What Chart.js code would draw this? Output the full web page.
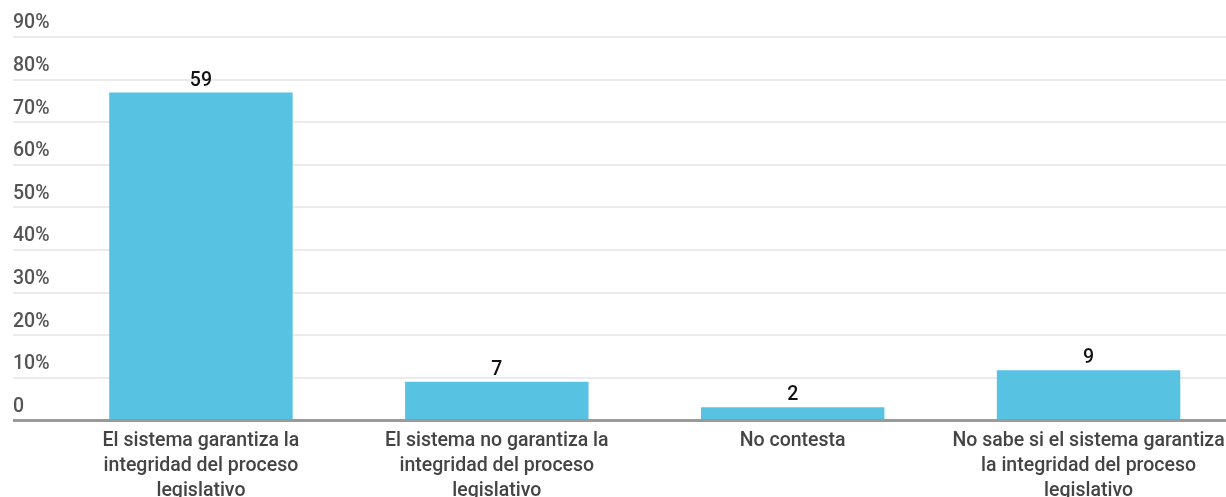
<!DOCTYPE html>
<html lang="es">
<head>
  <meta charset="UTF-8" />
  <title>Integridad del proceso legislativo</title>
  <script src="https://cdn.jsdelivr.net/npm/chart.js"></script>
  <style>
    html, body {
      margin: 0;
      padding: 0;
      background: #ffffff;
      overflow: hidden;
    }
    #wrap {
      position: relative;
      width: 1250px;
      height: 497px;
    }
  </style>
</head>
<body>
  <div id="wrap">
    <canvas id="barChart"></canvas>
  </div>

  <script>
    const categories = [
      ['El sistema garantiza la', 'integridad del proceso', 'legislativo'],
      ['El sistema no garantiza la', 'integridad del proceso', 'legislativo'],
      ['No contesta'],
      ['No sabe si el sistema garantiza', 'la integridad del proceso', 'legislativo']
    ];
    // bar height (%) and the count printed above each bar
    const shares = [77.0, 9.1, 3.1, 11.8];
    const counts = [59, 7, 2, 9];
    const yTicks = [0, 10, 20, 30, 40, 50, 60, 70, 80, 90];
    const yTickLabels = ['0', '10%', '20%', '30%', '40%', '50%', '60%', '70%', '80%', '90%'];

    const barColor = '#58c2e3';
    const gridColor = '#ebebeb';
    const baseColor = '#9a9a9a';

    const countLabels = {
      id: 'countLabels',
      afterDatasetsDraw(chart) {
        const ctx = chart.ctx;
        const meta = chart.getDatasetMeta(0);
        ctx.save();
        ctx.font = '500 19.5px Roboto';
        ctx.fillStyle = '#111111';
        ctx.textAlign = 'center';
        ctx.textBaseline = 'bottom';
        meta.data.forEach((bar, i) => {
          ctx.fillText(String(counts[i]), bar.x, bar.y - 2);
        });
        ctx.restore();
      }
    };

    new Chart(document.getElementById('barChart'), {
      type: 'bar',
      data: {
        labels: categories,
        datasets: [{
          data: shares,
          backgroundColor: barColor,
          borderWidth: 0,
          categoryPercentage: 1,
          barPercentage: 0.62
        }]
      },
      options: {
        responsive: true,
        maintainAspectRatio: false,
        animation: false,
        layout: { padding: { top: 37, left: 13, right: 13.5, bottom: 0 } },
        plugins: {
          legend: { display: false },
          tooltip: { enabled: false }
        },
        scales: {
          x: {
            offset: true,
            border: { display: false },
            grid: { display: false },
            afterFit: s => { s.height = 76.5; },
            ticks: {
              color: '#444444',
              font: { family: 'Roboto', size: 19.5, weight: 500, lineHeight: 1.28 },
              padding: 0,
              maxRotation: 0,
              autoSkip: false
            }
          },
          y: {
            min: 0,
            max: 90,
            border: { display: false },
            afterFit: s => { s.width = 40; },
            afterBuildTicks: s => { s.ticks = yTicks.map(v => ({ value: v })); },
            grid: {
              color: c => c.tick && c.tick.value === 0 ? baseColor : gridColor,
              lineWidth: c => c.tick && c.tick.value === 0 ? 3 : 2,
              tickLength: 40,
              drawTicks: true
            },
            ticks: {
              crossAlign: 'far',
              labelOffset: -13.5,
              padding: 0,
              color: '#555555',
              font: { family: 'Roboto', size: 19.5, weight: 500 },
              callback: (v) => yTickLabels[yTicks.indexOf(v)]
            }
          }
        }
      },
      plugins: [countLabels]
    });
  </script>
</body>
</html>
